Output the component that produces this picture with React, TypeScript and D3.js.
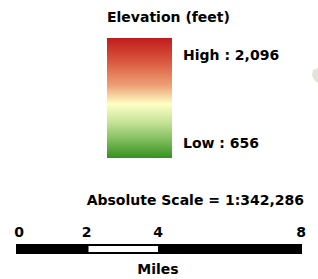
import React, { useEffect, useRef } from "react";
import * as d3 from "d3";

// legend values
const title = "Elevation (feet)";
const highValue = 2096;
const lowValue = 656;
const rampStops = [0, 0.2, 0.4, 0.55, 0.7, 0.85, 1];
const rampColors = ["#c01c1c", "#d9593e", "#eea277", "#ffffc4", "#c6e399", "#7fbd5c", "#35911f"];
const scaleRatio = 342286;
const scaleTicks = [0, 2, 4, 8];
const scaleUnit = "Miles";

const App = () => {
  const ref = useRef<SVGSVGElement>(null);

  useEffect(() => {
    const svg = d3.select(ref.current);
    svg.selectAll("*").remove();
    const font = "'DejaVu Sans', Verdana, sans-serif";
    const size = "14px";
    const fmt = d3.format(",");

    // gradient ramp
    const defs = svg.append("defs");
    const grad = defs
      .append("linearGradient")
      .attr("id", "ramp")
      .attr("x1", 0)
      .attr("y1", 0)
      .attr("x2", 0)
      .attr("y2", 1);
    grad
      .selectAll("stop")
      .data(rampStops)
      .join("stop")
      .attr("offset", (d) => d)
      .attr("stop-color", (d, i) => rampColors[i]);

    const y = d3.scaleLinear().domain([highValue, lowValue]).range([38, 158]);

    const label = (t: string, x: number, yy: number, anchor = "start") =>
      svg
        .append("text")
        .attr("x", x)
        .attr("y", yy)
        .attr("text-anchor", anchor)
        .style("font-family", font)
        .style("font-weight", "bold")
        .style("font-size", size)
        .text(t);

    label(title, 107, 22);

    svg
      .append("rect")
      .attr("x", 107)
      .attr("y", y(highValue))
      .attr("width", 65)
      .attr("height", y(lowValue) - y(highValue))
      .attr("fill", "url(#ramp)");

    label(`High : ${fmt(highValue)}`, 183, y(highValue) + 22);
    label(`Low : ${lowValue}`, 183, y(lowValue) - 10);

    // absolute scale
    label(`Absolute Scale = 1:${fmt(scaleRatio)}`, 304, 205, "end");

    // scale bar
    const x = d3.scaleLinear().domain([0, 8]).range([16, 302]);
    const barTop = 244;
    const barH = 10;

    svg
      .append("rect")
      .attr("x", x(0))
      .attr("y", barTop)
      .attr("width", x(8) - x(0))
      .attr("height", barH)
      .attr("fill", "#000");

    svg
      .append("rect")
      .attr("x", x(2) + 1)
      .attr("y", barTop + 2)
      .attr("width", x(4) - x(2) - 2)
      .attr("height", barH - 4)
      .attr("fill", "#fff");

    svg
      .selectAll(".tick-label")
      .data(scaleTicks)
      .join("text")
      .attr("class", "tick-label")
      .attr("x", (d) => (d === 0 ? x(d) + 3 : x(d) - 1))
      .attr("y", 237)
      .attr("text-anchor", "middle")
      .style("font-family", font)
      .style("font-weight", "bold")
      .style("font-size", size)
      .text((d) => d);

    label(scaleUnit, 158, 274, "middle");

    // small map fragment at the right edge
    svg
      .append("path")
      .attr("d", "M318,68 L313,70 L312,75 L314,80 L318,83 Z")
      .attr("fill", "#e6e2da");
  }, []);

  return (
    <svg
      ref={ref}
      width={318}
      height={279}
      style={{ position: "absolute", left: 0, top: 0, background: "#fff" }}
    ></svg>
  );
};

export default App;
